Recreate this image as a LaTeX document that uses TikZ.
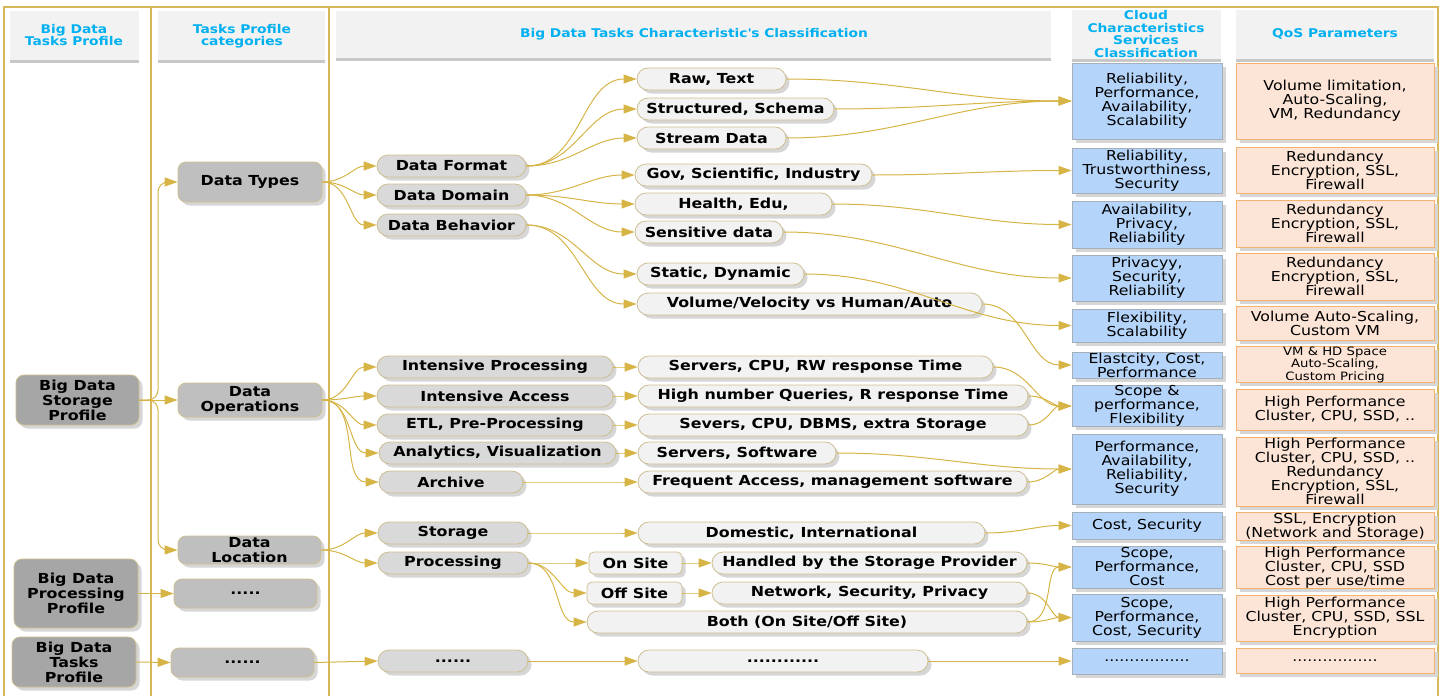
\documentclass[tikz,border=0pt]{standalone}
\usepackage{fontspec}
\setmainfont{DejaVu Sans}[FakeStretch=1.15]
\usetikzlibrary{arrows.meta,shapes.misc,shadows}
\definecolor{gold}{RGB}{214,180,70}
\definecolor{framec}{RGB}{214,184,90}
\definecolor{nodebd}{RGB}{205,190,145}
\definecolor{lzero}{RGB}{166,166,166}
\definecolor{lone}{RGB}{191,191,191}
\definecolor{ltwo}{RGB}{217,217,217}
\definecolor{lthree}{RGB}{242,242,242}
\definecolor{bluefill}{RGB}{180,212,250}
\definecolor{bluebd}{RGB}{165,175,185}
\definecolor{orfill}{RGB}{252,228,214}
\definecolor{orbd}{RGB}{245,178,110}
\definecolor{hdrfill}{RGB}{242,242,242}
\definecolor{hdrbar}{RGB}{200,200,200}
\definecolor{hdrtext}{RGB}{0,176,240}
\begin{document}
\begin{tikzpicture}[x=1pt,y=-1pt,
  shd/.style={drop shadow={shadow xshift=3.5pt,shadow yshift=-3.5pt,fill=black!16,opacity=1}},
  base/.style={draw=nodebd,line width=0.8pt,inner sep=0pt,align=center,
    font=\bfseries\fontsize{13.8}{15}\selectfont,shd},
  lz/.style={base,fill=lzero,rounded corners=8pt},
  lo/.style={base,fill=lone,rounded corners=8pt},
  lt/.style={base,rounded rectangle,fill=ltwo,minimum height=22pt},
  lh/.style={base,rounded rectangle,fill=lthree,minimum height=22pt},
  site/.style={base,fill=lthree,rounded corners=5pt,minimum height=22pt},
  bbox/.style={draw=bluebd,fill=bluefill,line width=1pt,inner sep=0pt,align=center,
    minimum width=150pt,font=\fontsize{13.7}{14}\selectfont,shd},
  obox/.style={draw=orbd,fill=orfill,line width=1pt,inner sep=0pt,align=center,
    minimum width=198pt,font=\fontsize{13.7}{14}\selectfont,shd},
  hdr/.style={text=hdrtext,align=center,font=\bfseries\fontsize{12}{12.4}\selectfont},
  conn/.style={draw=gold,line width=1pt,-{Triangle[length=13pt,width=9pt]}},
  cc/.style={conn,out=0,in=180}]
\useasboundingbox (0,0) rectangle (1443,696);

% frame
\draw[framec,line width=1.2pt] (4,696) -- (4,7) -- (1438,7) -- (1438,696);
\draw[framec,line width=1.2pt] (151,7) -- (151,696);
\draw[framec,line width=1.2pt] (329,7) -- (329,696);

% headers
\fill[hdrfill] (10,11) rectangle (139,63);  \fill[hdrbar] (10,60) rectangle (139,63);
\fill[hdrfill] (158,11) rectangle (325,63); \fill[hdrbar] (158,60) rectangle (325,63);
\fill[hdrfill] (336,11) rectangle (1051,61); \fill[hdrbar] (336,58) rectangle (1051,61);
\fill[hdrfill] (1072,10) rectangle (1221,62); \fill[hdrbar] (1072,59) rectangle (1221,62);
\fill[hdrfill] (1236,10) rectangle (1434,62); \fill[hdrbar] (1236,59) rectangle (1434,62);
\node[hdr] (h1) at (74,35) {Big Data\\Tasks Profile};
\node[hdr] (h2) at (242,36) {Tasks Profile\\categories};
\node[hdr] (h3) at (694,34) {Big Data Tasks Characteristic{\XeTeXglyph\XeTeXcharglyph"0027}s Classification};
\node[hdr] (h4) at (1146,34) {Cloud\\Characteristics\\Services\\Classification};
\node[hdr] (h5) at (1335,34) {QoS Parameters};

% level 0
\node[lz,minimum width=123pt,minimum height=50pt] (sp) at (77.5,400) {Big Data\\Storage\\Profile};
\node[lz,minimum width=124pt,minimum height=69pt] (pp) at (76,593.5) {Big Data\\Processing\\Profile};
\node[lz,minimum width=124pt,minimum height=50pt] (tp) at (74,662) {Big Data\\Tasks\\Profile};

% level 1
\node[lo,minimum width=144pt,minimum height=40pt] (dt) at (250,182) {Data Types};
\node[lo,minimum width=144pt,minimum height=34pt] (dop) at (250,400) {Data\\Operations};
\node[lo,minimum width=143pt,minimum height=28pt] (dl) at (249.5,550) {Data\\Location};
\node[lo,minimum width=143pt,minimum height=29pt] (pd) at (245.5,593.5) {.....};
\node[lo,minimum width=143pt,minimum height=29pt] (td) at (242.5,662.5) {......};

% level 2
\node[lt,minimum width=149pt] (dfmt) at (451.5,166) {Data Format};
\node[lt,minimum width=149pt] (ddom) at (451.5,195) {Data Domain};
\node[lt,minimum width=149pt] (dbeh) at (451.5,225) {Data Behavior};
\node[lt,minimum width=236pt] (ip) at (495,367) {Intensive Processing};
\node[lt,minimum width=236pt] (ia) at (495,396) {Intensive Access};
\node[lt,minimum width=236pt] (etl) at (495,425) {ETL, Pre-Processing};
\node[lt,minimum width=237pt] (av) at (497.5,453) {Analytics, Visualization};
\node[lt,minimum width=144pt] (arc) at (451,482) {Archive};
\node[lt,minimum width=150pt] (sto) at (453,533) {Storage};
\node[lt,minimum width=150pt] (pro) at (453,563) {Processing};
\node[lt,minimum width=150pt] (ltd) at (453,661) {......};

% level 3
\node[lh,minimum width=149pt] (raw) at (711.5,79) {Raw, Text};
\node[lh,minimum width=197pt] (str) at (735.5,109) {Structured, Schema};
\node[lh,minimum width=149pt] (stm) at (711.5,138) {Stream Data};
\node[lh,minimum width=237pt] (gov) at (753.5,175) {Gov, Scientific, Industry};
\node[lh,minimum width=197pt] (hea) at (733.5,204) {Health, Edu,};
\node[lh,minimum width=148pt] (sen) at (709,232) {Sensitive data};
\node[lh,minimum width=167pt] (sta) at (720.5,274) {Static, Dynamic};
\node[lh,minimum width=345pt] (vol) at (809.5,304) {Volume/Velocity vs Human/Auto};
\node[lh,minimum width=355pt] (srw) at (815.5,367) {Servers, CPU, RW response Time};
\node[lh,minimum width=390pt] (hnq) at (833,396) {High number Queries, R response Time};
\node[lh,minimum width=390pt] (sev) at (833,425) {Severs, CPU, DBMS, extra Storage};
\node[lh,minimum width=198pt] (ssw) at (737,453) {Servers, Software};
\node[lh,minimum width=389pt] (fa) at (832.5,482) {Frequent Access, management software};
\node[lh,minimum width=347pt] (dom) at (811.5,533) {Domestic, International};
\node[site,minimum width=93pt] (ons) at (635.5,563) {On Site};
\node[lh,minimum width=315pt] (hsp) at (869.5,563) {Handled by the Storage Provider};
\node[site,minimum width=95pt] (ofs) at (634.5,593) {Off Site};
\node[lh,minimum width=315pt] (nsp) at (869.5,593) {Network, Security, Privacy};
\node[lh,minimum width=440pt] (both) at (807,622) {Both (On Site/Off Site)};
\node[lh,minimum width=290pt] (lhd) at (783,661) {............};

% blue boxes
\node[bbox,minimum height=76pt] (b1) at (1147,101) {Reliability,\\Performance,\\Availability,\\Scalability};
\node[bbox,minimum height=45pt] (b2) at (1147,170.5) {Reliability,\\Trustworthiness,\\Security};
\node[bbox,minimum height=47pt] (b3) at (1147,224.5) {Availability,\\Privacy,\\Reliability};
\node[bbox,minimum height=46pt] (b4) at (1147,278) {Privacyy,\\Security,\\Reliability};
\node[bbox,minimum height=33pt] (b5) at (1147,325.5) {Flexibility,\\Scalability};
\node[bbox,minimum height=26pt] (b6) at (1147,365) {Elastcity, Cost,\\Performance};
\node[bbox,minimum height=40pt] (b7) at (1147,406) {Scope \&\\performance,\\Flexibility};
\node[bbox,minimum height=70pt] (b8) at (1147,469) {Performance,\\Availability,\\Reliability,\\Security};
\node[bbox,minimum height=27pt] (b9) at (1147,525.5) {Cost, Security};
\node[bbox,minimum height=42pt] (b10) at (1147,567) {Scope,\\Performance,\\Cost};
\node[bbox,minimum height=47pt] (b11) at (1147,617.5) {Scope,\\Performance,\\Cost, Security};
\node[bbox,minimum height=26pt] (b12) at (1147,661) {.................};

% orange boxes
\node[obox,minimum height=76pt] (o1) at (1335,101) {Volume limitation,\\Auto-Scaling,\\VM, Redundancy};
\node[obox,minimum height=46pt] (o2) at (1335,170) {Redundancy\\Encryption, SSL,\\Firewall};
\node[obox,minimum height=47pt] (o3) at (1335,223.5) {Redundancy\\Encryption, SSL,\\Firewall};
\node[obox,minimum height=47pt] (o4) at (1335,276.5) {Redundancy\\Encryption, SSL,\\Firewall};
\node[obox,minimum height=34pt] (o5) at (1335,323) {Volume Auto-Scaling,\\Custom VM};
\node[obox,minimum height=35pt,font=\fontsize{11.5}{12.5}\selectfont] (o6) at (1335,364.5) {VM \& HD Space\\Auto-Scaling,\\Custom Pricing};
\node[obox,minimum height=41pt] (o7) at (1335,409.5) {High Performance\\Cluster, CPU, SSD, ..};
\node[obox,minimum height=69pt] (o8) at (1335,471.5) {High Performance\\Cluster, CPU, SSD, ..\\Redundancy\\Encryption, SSL,\\Firewall};
\node[obox,minimum height=27pt] (o9) at (1335,526.5) {SSL, Encryption\\(Network and Storage)};
\node[obox,minimum height=41pt] (o10) at (1335,567.5) {High Performance\\Cluster, CPU, SSD\\Cost per use/time};
\node[obox,minimum height=46pt] (o11) at (1335,618) {High Performance\\Cluster, CPU, SSD, SSL\\Encryption};
\node[obox,minimum height=25pt] (o12) at (1335,660.5) {.................};

% connectors from level 0
\coordinate (bt) at (158,182);
\coordinate (bb) at (158,550);
\draw[conn,rounded corners=10pt] (sp.east) -| (bt) -- (dt.west);
\draw[conn,rounded corners=10pt] (sp.east) -| (bb) -- (dl.west);
\draw[conn] (sp.east) -- (dop.west);
\draw[conn] (pp.east) -- (pd.west);
\draw[conn] (tp.east) -- (td.west);
\draw[conn] (td.east) -- (ltd.west);
\draw[conn] (ltd.east) -- (lhd.west);
\draw[conn] (lhd.east) -- (b12.west);

% curved connectors
\foreach \a/\b in {dt/dfmt,dt/ddom,dt/dbeh,dfmt/raw,dfmt/str,dfmt/stm,ddom/gov,ddom/hea,ddom/sen,
  dbeh/sta,dbeh/vol,dop/ip,dop/ia,dop/etl,dop/av,dop/arc,dl/sto,dl/pro,pro/ons,pro/ofs,pro/both,
  ip/srw,ia/hnq,etl/sev,av/ssw,arc/fa,sto/dom,ons/hsp,ofs/nsp,
  raw/b1,str/b1,stm/b1,gov/b2,hea/b3,sen/b4,sta/b5,vol/b6,srw/b7,hnq/b7,sev/b7,ssw/b8,fa/b8,
  dom/b9,hsp/b10,nsp/b11,both/b10,both/b11}
  {\draw[cc] (\a.east) to (\b.west);}
\end{tikzpicture}
\end{document}
